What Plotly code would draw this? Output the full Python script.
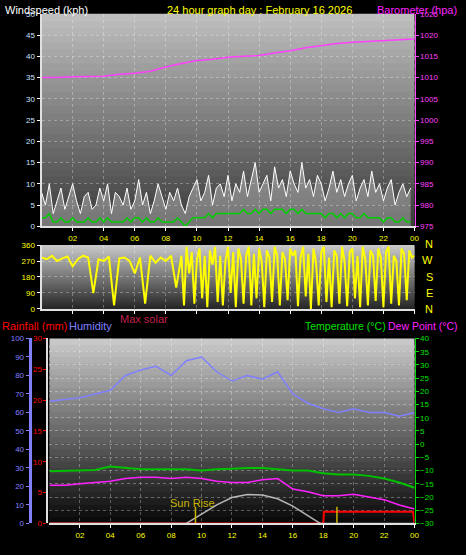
import plotly.graph_objects as go

# ---- data ----
hours = list(range(25))
gust_times = [i / 4 for i in range(96)]
dir_times_night = [i / 3 for i in range(27)]
dir_times_day = [9 + i / 6 for i in range(91)]

wind_gust = [8, 5, 10, 3, 6, 9, 4, 7, 10, 6, 3, 7, 8, 4, 5, 9, 6, 10, 3, 8, 7, 5, 9, 4,
             6, 11, 5, 8, 3, 6, 10, 7, 4, 8, 6, 9, 5, 3, 7, 9, 11, 6, 8, 12, 5, 9, 10, 7,
             12, 6, 10, 8, 13, 7, 11, 15, 8, 10, 12, 6, 14, 9, 11, 7, 13, 10, 8, 15, 9, 11,
             7, 12, 10, 6, 9, 13, 8, 11, 7, 10, 12, 6, 9, 11, 7, 13, 8, 10, 6, 9, 11, 5, 8, 10, 7, 9]
wind_avg = [2, 2, 3, 1, 1, 2, 1, 1, 2, 1, 1, 1, 2, 1, 1, 2, 1, 2, 1, 1, 1, 1, 2, 1,
            2, 2, 1, 2, 1, 1, 2, 1, 1, 1, 1, 2, 1, 0, 1, 2, 2, 2, 2, 3, 2, 3, 3, 3,
            3, 3, 3, 3, 4, 3, 3, 4, 3, 4, 4, 3, 4, 4, 4, 3, 4, 4, 3, 4, 3, 3,
            3, 3, 3, 2, 3, 3, 2, 3, 2, 3, 3, 2, 2, 3, 2, 2, 2, 2, 1, 2, 2, 1, 1, 2, 1, 1]
barometer = [1010, 1010, 1010.2, 1010.3, 1010.3, 1010.8, 1011, 1011.5, 1012.5, 1013.3, 1014,
             1014.3, 1014.8, 1015, 1015.2, 1015.8, 1016.3, 1017, 1017.5, 1018, 1018.3, 1018.5,
             1018.7, 1018.9, 1019.1]
wind_dir_night = [290, 280, 300, 270, 285, 295, 240, 280, 300, 290, 90, 280, 270, 295, 20, 285,
                  290, 270, 200, 290, 30, 300, 260, 290, 270, 300, 120]
wind_dir_day = [300, 20, 350, 200, 320, 30, 280, 340, 60, 300, 10, 330, 250, 350, 40, 300, 20, 270,
                350, 90, 320, 10, 340, 280, 30, 300, 350, 20, 310, 60, 340, 270, 10, 330, 290, 40,
                350, 300, 20, 320, 280, 50, 340, 300, 330, 15, 290, 350, 70, 310, 0, 340, 260, 20,
                320, 350, 40, 290, 10, 330, 300, 30, 350, 270, 15, 320, 340, 60, 300, 10, 350, 280,
                20, 330, 300, 45, 340, 290, 10, 320, 350, 30, 300, 270, 20, 340, 310, 50, 330, 290, 300]

humidity = [66, 67, 68, 70, 72, 80, 83, 85, 80, 88, 90, 82, 77, 80, 78, 82, 70, 65, 62, 60,
            62, 60, 60, 58, 60]
temperature = [-10.2, -10, -9.8, -9.8, -8.5, -9, -9.5, -9.5, -9.5, -9.5, -10, -9.5, -9.3, -9,
               -9, -9.5, -10, -10, -11, -11.5, -11.5, -12, -13, -14.5, -16.5]
dew_point = [-15.5, -15.5, -15, -14.5, -14, -13, -12.5, -12.5, -13, -12.5, -13, -14, -14.5,
             -14.5, -13.5, -13, -17, -18, -19.5, -19.5, -19, -20, -21, -23, -24.5]
solar_times = [0, 9, 10, 11, 12, 13, 14, 15, 16, 17, 17.8, 24]
solar = [0, 0, 1.5, 3, 4.2, 4.7, 4.6, 4, 2.8, 1.3, 0, 0]
rain_times = [0, 18, 18.05, 23.9, 24]
rainfall = [0, 0, 1.9, 1.9, 0]
SUN_RISE = 9.6
SUN_SET = 18.9

tick_vals = list(range(2, 25, 2))
tick_text = ["%02d" % (h % 24) for h in tick_vals]

W, H = 466, 555
FONT = "Liberation Sans"


def py(px):
    return 1 - px / H


X1 = [42 / W, 419 / W]
X3 = [50 / W, 419 / W]
D1 = [py(226), py(10)]
D2 = [py(310), py(245)]
D3 = [py(528), py(340)]

fig = go.Figure()
fig.add_trace(go.Scatter(x=gust_times, y=wind_gust, mode="lines",
                         line={"color": "white", "width": 1}, fill="tozeroy",
                         fillcolor="rgba(255,255,255,0.3)", xaxis="x", yaxis="y"))
fig.add_trace(go.Scatter(x=gust_times, y=wind_avg, mode="lines", line={"color": "#00d000", "width": 1.5},
                         xaxis="x", yaxis="y"))
fig.add_trace(go.Scatter(x=hours, y=barometer, mode="lines", line={"color": "#ff40ff", "width": 1.5},
                         xaxis="x", yaxis="y2"))
fig.add_trace(go.Scatter(x=dir_times_night + dir_times_day, y=wind_dir_night + wind_dir_day, mode="lines",
                         line={"color": "yellow", "width": 2}, xaxis="x2", yaxis="y3"))
fig.add_trace(go.Scatter(x=hours, y=humidity, mode="lines", line={"color": "#8080ff", "width": 1.5},
                         xaxis="x3", yaxis="y5"))
fig.add_trace(go.Scatter(x=hours, y=temperature, mode="lines", line={"color": "#00c000", "width": 2},
                         xaxis="x3", yaxis="y4"))
fig.add_trace(go.Scatter(x=hours, y=dew_point, mode="lines", line={"color": "#ff20ff", "width": 1.5},
                         xaxis="x3", yaxis="y4"))
fig.add_trace(go.Scatter(x=rain_times, y=rainfall, mode="lines", line={"color": "red", "width": 2},
                         xaxis="x3", yaxis="y6"))
fig.add_trace(go.Scatter(x=solar_times, y=solar, mode="lines",
                         line={"color": "rgba(220,220,220,0.8)", "width": 1.5}, xaxis="x3", yaxis="y6"))
for t in (SUN_RISE, SUN_SET):
    fig.add_trace(go.Scatter(x=[t, t], y=[0, 2.7], mode="lines", line={"color": "#c8b400", "width": 1.5},
                             xaxis="x3", yaxis="y6"))

# gradient backgrounds (bands overlap slightly so no seams show)
shapes = []
for dom, xd, top, bot in ((D1, X1, 190, 60), (D2, X1, 200, 40), (D3, X3, 200, 10)):
    n = 30
    step = (dom[1] - dom[0]) / n
    for i in range(n):
        g = int(top + (bot - top) * i / (n - 1))
        y1 = dom[1] - step * i
        y0 = max(dom[0], y1 - step * 1.6)
        shapes.append(dict(type="rect", xref="paper", yref="paper", x0=xd[0], x1=xd[1], y0=y0, y1=y1,
                           fillcolor="rgb(%d,%d,%d)" % (g, g, g), line={"width": 0}, layer="below"))

grid = dict(showgrid=True, gridcolor="rgba(255,255,255,0.3)", griddash="dot", zeroline=False)
tickf = {"family": FONT, "size": 8}
xcommon = dict(range=[0, 24], tickvals=tick_vals, ticktext=tick_text, ticks="outside", ticklen=3,
               tickcolor="white", showline=True, linecolor="#e0e0e0", linewidth=2, **grid)

fig.update_layout(
    width=W, height=H, margin=dict(l=0, r=0, t=0, b=0), paper_bgcolor="black", plot_bgcolor="rgba(0,0,0,0)",
    showlegend=False, shapes=shapes, font={"family": FONT},
    xaxis=dict(domain=X1, anchor="y", tickfont={**tickf, "color": "yellow"}, **xcommon),
    xaxis2=dict(domain=X1, anchor="y3", showticklabels=False, **xcommon),
    xaxis3=dict(domain=X3, anchor="y4", tickfont={**tickf, "color": "yellow"}, **xcommon),
    yaxis=dict(domain=D1, range=[0, 50], dtick=5, tickfont={**tickf, "color": "#c8e0ff"}, ticks="outside",
               ticklen=3, tickcolor="white", showline=True, linecolor="#e0e0e0", linewidth=2, **grid),
    yaxis2=dict(overlaying="y", side="right", range=[975, 1025], dtick=5, anchor="x",
                tickfont={**tickf, "color": "#ff40ff"}, ticks="outside", ticklen=3, tickcolor="#ff40ff",
                showline=True, linecolor="#ff40ff", showgrid=False, zeroline=False),
    yaxis3=dict(domain=D2, range=[0, 360], tickvals=[0, 90, 180, 270, 360], anchor="x2",
                tickfont={**tickf, "color": "yellow"}, ticks="outside", ticklen=3, tickcolor="white",
                showline=True, linecolor="#e0e0e0", linewidth=2, **grid),
    yaxis4=dict(domain=D3, range=[-30, 40], dtick=5, side="right", anchor="x3",
                tickfont={**tickf, "color": "#00e000"}, ticks="outside", ticklen=3, tickcolor="#00e000",
                showline=True, linecolor="#00e000", **grid),
    yaxis5=dict(overlaying="y4", range=[0, 100], dtick=10, anchor="free", position=30 / W,
                tickfont={**tickf, "color": "#8080ff"}, ticks="outside", ticklen=3, tickcolor="#8080ff",
                showline=True, linecolor="#8080ff", linewidth=3, showgrid=False, zeroline=False),
    yaxis6=dict(overlaying="y4", range=[0, 30], dtick=5, anchor="free", position=48 / W,
                tickfont={**tickf, "color": "red"}, ticks="outside", ticklen=3, tickcolor="red",
                showline=True, linecolor="#e0e0e0", linewidth=2, showgrid=False, zeroline=False),
)

labels = [
    ("Windspeed (kph)", 3, 6, "white", "left", 11),
    ("24 hour graph day : February 16 2026", 262, 6, "yellow", "center", 11),
    ("Barometer (hpa)", 464, 6, "#ff20ff", "right", 11),
    ("Max solar", 119, 320, "#c0204a", "left", 11),
    ("Rainfall (mm)", 0, 327, "red", "left", 11),
    ("Humidity", 68, 327, "#8080ff", "left", 11),
    ("Temperature (°C)", 392, 327, "#00e000", "right", 10.5),
    ("Dew Point (°C)", 465, 327, "#ff20ff", "right", 10.5),
    ("Sun Rise", 195, 507, "#c8b400", "center", 11),
]
for text, x, y, color, align, size in labels:
    fig.add_annotation(text=text, x=x / W, y=py(y), xref="paper", yref="paper", showarrow=False,
                       xanchor=align, yanchor="middle", font={"family": FONT, "size": size, "color": color})
for i, letter in enumerate(["N", "W", "S", "E", "N"]):
    fig.add_annotation(text=letter, x=440 / W, y=py(244 + i * 16.5), xref="paper", yref="paper",
                       showarrow=False, font={"family": FONT, "size": 11, "color": "yellow"})

# drop the page margin so the figure fills the window exactly
fig.write_html("out.html", config={"displayModeBar": False},
               post_script="document.body.style.margin='0';")
